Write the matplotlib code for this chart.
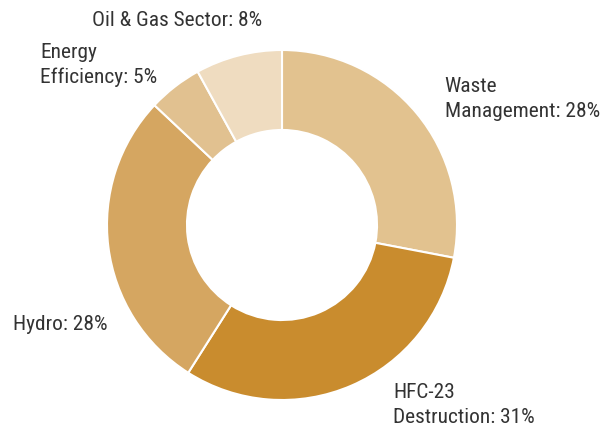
import matplotlib
matplotlib.use("Agg")
import matplotlib.pyplot as plt

categories = ["Waste\nManagement", "HFC-23\nDestruction", "Hydro", "Energy\nEfficiency", "Oil & Gas Sector"]
values = [28, 31, 28, 5, 8]
colors = ["#e2c28f", "#c98c2e", "#d5a661", "#e1c190", "#efdcc0"]

# label layout (data coords relative to unit radius), not data
label_pos = [(0.93, 0.72, "left"), (0.634, -1.03, "left"), (-1.537, -0.571, "left"),
             (-1.383, 0.914, "left"), (-1.086, 1.171, "left")]

W, H = 603, 429
fig = plt.figure(figsize=(W / 100, H / 100), dpi=100)
cx, cy, r = 282, 429 - 225, 175
ax = fig.add_axes([(cx - r) / W, (cy - r) / H, 2 * r / W, 2 * r / H])
wedges, _ = ax.pie(values, colors=colors, startangle=90, counterclock=False,
                   radius=1, wedgeprops=dict(width=0.457, edgecolor="white", linewidth=1.5))
ax.set_xlim(-1, 1)
ax.set_ylim(-1, 1)
ax.set_aspect("equal")
ax.axis("off")

for name, v, (x, y, ha) in zip(categories, values, label_pos):
    ax.text(x, y, f"{name}: {v}%", ha=ha, va="center", fontsize=15.4, family="Roboto Condensed",
            color="#333333", linespacing=1.38, clip_on=False)

fig.savefig("out.png", dpi=100)
